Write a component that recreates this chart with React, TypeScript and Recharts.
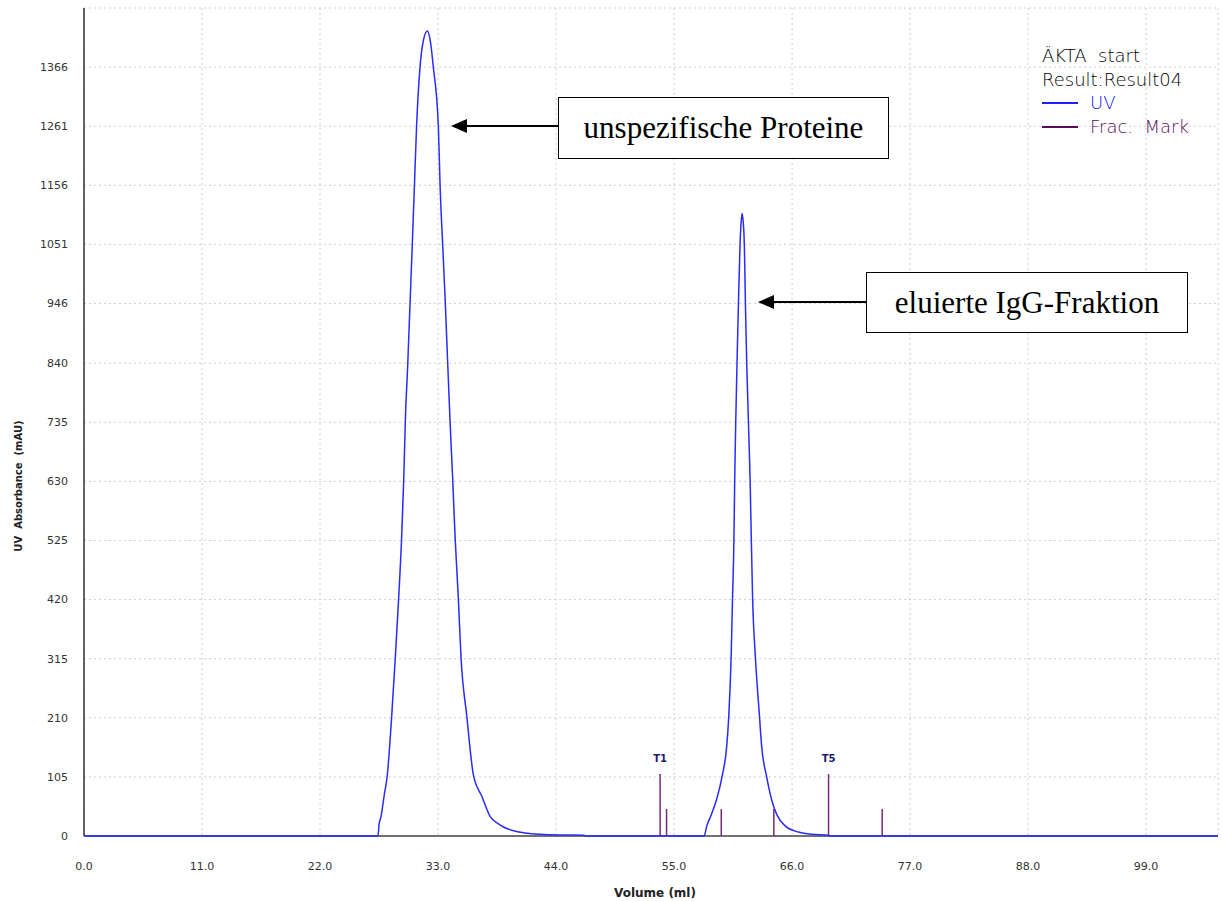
import { CartesianGrid, Line, LineChart, ReferenceLine, XAxis, YAxis } from "recharts";

// UV trace (volume in ml, absorbance in mAU)
const volumes = [
  0, 27.4, 27.5, 27.69, 27.97, 28.27, 28.68, 29.02, 29.33, 29.6, 29.8, 29.95, 30.18, 30.39, 30.6, 30.8, 31.0,
  31.32, 31.6, 32.0, 32.3, 32.56, 33.03, 33.19, 33.43, 33.68, 33.9, 34.12, 34.37, 34.6, 34.89, 35.14, 35.68,
  36.3, 37.07, 37.85, 38.6, 39.1, 40.3, 42.5, 44.4, 46.6, 46.7, 57.8, 58.05, 58.45, 58.95, 59.5, 59.9, 60.1,
  60.32, 60.45, 60.58, 60.65, 60.75, 60.87, 61.0, 61.15, 61.25, 61.34, 61.45, 61.55, 61.65, 61.77, 61.93, 62.09,
  62.2, 62.32, 62.58, 62.96, 63.17, 63.6, 64.1, 64.6, 65.35, 66.6, 67.8, 69.4, 69.45, 105.7
];
const uvValues = [
  0, 0, 20, 35, 71, 108, 213, 318, 423, 527, 632, 737, 840, 946, 1051, 1156, 1261,
  1366, 1410, 1430, 1410, 1366, 1261, 1156, 1051, 946, 840, 737, 632, 527, 423, 318, 213,
  108, 71, 35, 22, 16, 8, 3, 1.8, 1.5, 0, 0, 18, 37, 64, 108, 158, 213,
  318, 423, 527, 632, 737, 842, 946, 1051, 1090, 1106, 1090, 1051, 946, 842, 737, 632,
  527, 423, 318, 213, 158, 108, 64, 37, 18, 7, 3, 1.5, 0, 0
];

// fraction marks
const fracVolumes = [53.7, 54.3, 59.4, 64.3, 69.4, 74.4];
const fracHeights = [110, 48, 48, 48, 110, 48];
const fracLabels = ["T1", "", "", "", "T5", ""];

const xTicks = [0, 11, 22, 33, 44, 55, 66, 77, 88, 99];
const yTicks = [0, 105, 210, 315, 420, 525, 630, 735, 840, 946, 1051, 1156, 1261, 1366];

const data = volumes.map((v, i) => ({ volume: v, uv: uvValues[i] }));

const tickFont = { fontSize: 11, fill: "#333", fontFamily: "DejaVu Sans" };

function YTitle() {
  return (
    <text
      x={18}
      y={486}
      transform="rotate(-90 18 486)"
      textAnchor="middle"
      dominantBaseline="central"
      style={{ fontSize: 10, fontWeight: 700, fill: "#222", fontFamily: "DejaVu Sans", whiteSpace: "pre" }}
    >
      UV  Absorbance  (mAU)
    </text>
  );
}

function XTitle() {
  return (
    <text
      x={655}
      y={893}
      textAnchor="middle"
      dominantBaseline="central"
      style={{ fontSize: 12, fontWeight: 700, fill: "#222", fontFamily: "DejaVu Sans" }}
    >
      Volume (ml)
    </text>
  );
}

function Callout({ text, left, top, width, height }: { text: string; left: number; top: number; width: number; height: number }) {
  return (
    <div
      style={{
        position: "absolute",
        left,
        top,
        width,
        height,
        boxSizing: "border-box",
        border: "1.5px solid #000",
        background: "#fff",
        display: "flex",
        alignItems: "center",
        justifyContent: "center",
        fontFamily: "'Liberation Serif', serif",
        fontSize: 31,
        color: "#000",
        whiteSpace: "nowrap"
      }}
    >
      {text}
    </div>
  );
}

function ChartLegend() {
  const row = { height: 23.7, lineHeight: "23.7px", display: "flex", alignItems: "center", whiteSpace: "pre" as const };
  const swatch = (color: string) => (
    <span style={{ display: "inline-block", width: 36, height: 2, background: color, marginRight: 12 }} />
  );
  return (
    <div
      style={{
        position: "absolute",
        left: 1042,
        top: 44,
        fontFamily: "'DejaVu Sans', sans-serif",
        fontWeight: 200,
        fontSize: 18,
        color: "#000"
      }}
    >
      <div style={row}>ÄKTA  start</div>
      <div style={row}>Result:Result04</div>
      <div style={{ ...row, color: "#1010ff" }}>
        {swatch("#2020ff")}UV
      </div>
      <div style={{ ...row, color: "#5a0c5a" }}>
        {swatch("#5a0c5a")}Frac.  Mark
      </div>
    </div>
  );
}

export default function App() {
  return (
    <div style={{ position: "absolute", left: 0, top: 0, width: 1222, height: 901, background: "#fff" }}>
      <LineChart width={1222} height={901} data={data} margin={{ top: 8, right: 4, bottom: 0, left: 0 }}>
        <CartesianGrid stroke="#cfcfcf" strokeDasharray="2 3" />
        <XAxis
          dataKey="volume"
          type="number"
          domain={[0, 105.7]}
          ticks={xTicks}
          tickFormatter={(v: number) => v.toFixed(1)}
          tickLine={false}
          tickMargin={20}
          tick={tickFont}
          axisLine={false}
          height={65}
          label={<XTitle />}
        />
        <YAxis
          type="number"
          domain={[0, 1471]}
          ticks={yTicks}
          interval={0}
          tickLine={false}
          tickMargin={10}
          tick={tickFont}
          axisLine={{ stroke: "#333", strokeWidth: 1.5 }}
          width={84}
          label={<YTitle />}
        />
        <ReferenceLine y={0} stroke="#444" strokeWidth={1.5} />
        {fracVolumes.map((v, i) => (
          <ReferenceLine
            key={i}
            segment={[
              { x: v, y: 0 },
              { x: v, y: fracHeights[i] }
            ]}
            stroke="#76287a"
            strokeWidth={1.5}
            label={
              fracLabels[i]
                ? {
                    value: fracLabels[i],
                    position: "top",
                    offset: 12,
                    fill: "#1c1c70",
                    fontSize: 10,
                    fontWeight: 700,
                    fontFamily: "DejaVu Sans"
                  }
                : undefined
            }
          />
        ))}
        <Line
          type="monotoneX"
          dataKey="uv"
          stroke="#2b2bff"
          strokeWidth={1.5}
          dot={false}
          activeDot={false}
          isAnimationActive={false}
          zIndex={1000}
        />
      </LineChart>

      <svg width={1222} height={901} style={{ position: "absolute", left: 0, top: 0, pointerEvents: "none" }}>
        <line x1={558} y1={126} x2={465} y2={126} stroke="#000" strokeWidth={2} />
        <polygon points="451,126 467,119 467,133" fill="#000" />
        <line x1={866} y1={302} x2={772} y2={302} stroke="#000" strokeWidth={2} />
        <polygon points="758,302 774,295 774,309" fill="#000" />
      </svg>
      <Callout text="unspezifische Proteine" left={558} top={97} width={331} height={62} />
      <Callout text="eluierte IgG-Fraktion" left={866} top={272} width={322} height={61} />
      <ChartLegend />
    </div>
  );
}
